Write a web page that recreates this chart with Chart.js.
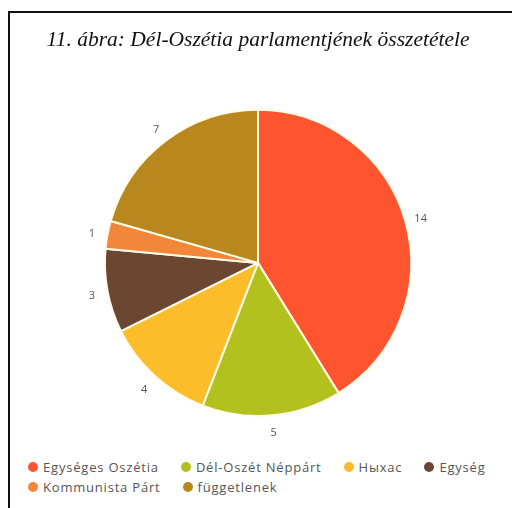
<!DOCTYPE html>
<html>
<head>
<meta charset="utf-8">
<script src="https://cdn.jsdelivr.net/npm/chart.js@4/dist/chart.umd.min.js"></script>
<style>
  html, body { margin:0; padding:0; background:#fff; overflow:hidden; }
  body { width:512px; height:508px; position:relative; }
  #frame { position:absolute; left:8px; top:11px; width:600px; height:600px; border:2px solid #111; box-sizing:border-box; }
  #wrap { position:absolute; left:10px; top:13px; width:502px; height:437px; }
  #legend { position:absolute; left:28px; top:457px; width:480px; display:flex; flex-wrap:wrap;
            font:13px "Open Sans", sans-serif; letter-spacing:0.8px; color:#555; line-height:20px; }
  #legend .item { display:flex; align-items:center; margin-right:22px; white-space:nowrap; }
  #legend .dot { width:10px; height:10px; border-radius:50%; margin-right:5px; display:inline-block; }
</style>
</head>
<body>
<div id="frame"></div>
<div id="wrap"><canvas id="pie" width="502" height="437"></canvas></div>
<div id="legend"></div>
<script>
// data
const parties = ['Egységes Oszétia', 'Dél-Oszét Néppárt', 'Hыхас', 'Egység', 'Kommunista Párt', 'függetlenek'];
const seats = [14, 5, 4, 3, 1, 7];
const colors = ['#fe5530', '#b3c11f', '#fcbd2b', '#6b4631', '#f2873a', '#b8881f'];
const chartTitle = '11. ábra: Dél-Oszétia parlamentjének összetétele';

const $ = id => document.getElementById(id);

// numbers outside each slice
const valueLabels = {
  id: 'valueLabels',
  afterDatasetsDraw(chart){
    const ctx = chart.ctx;
    const meta = chart.getDatasetMeta(0);
    ctx.save();
    ctx.font = '11px "Open Sans", sans-serif';
    ctx.fillStyle = '#555';
    ctx.textAlign = 'center';
    ctx.textBaseline = 'middle';
    meta.data.forEach((arc, i) => {
      const p = arc.getProps(['x','y','startAngle','endAngle','outerRadius'], true);
      const mid = (p.startAngle + p.endAngle) / 2;
      const r = p.outerRadius + 16;
      ctx.fillText(String(seats[i]), p.x + Math.cos(mid) * r, p.y + Math.sin(mid) * r + 2);
    });
    ctx.restore();
  }
};

new Chart($('pie'), {
  type: 'pie',
  data: {
    labels: parties,
    datasets: [{ data: seats, backgroundColor: colors, borderColor: '#fffbe8', borderWidth: 2 }]
  },
  options: {
    responsive: false,
    animation: false,
    layout: { padding: { top: 0, bottom: 33, left: 0, right: 6 } },
    plugins: {
      legend: { display: false },
      tooltip: { enabled: false },
      title: {
        display: true,
        text: chartTitle,
        color: '#111',
        font: { family: '"Liberation Serif", "DejaVu Serif", serif', style: 'italic', size: 21.5, weight: 'normal' },
        padding: { top: 14, bottom: 56 }
      }
    }
  },
  plugins: [valueLabels]
});

// legend built from the same arrays
const lg = $('legend');
parties.forEach((name, i) => {
  const it = document.createElement('span');
  it.className = 'item';
  it.innerHTML = `<span class="dot" style="background:${colors[i]}"></span>${name}`;
  lg.appendChild(it);
});
</script>
</body>
</html>
